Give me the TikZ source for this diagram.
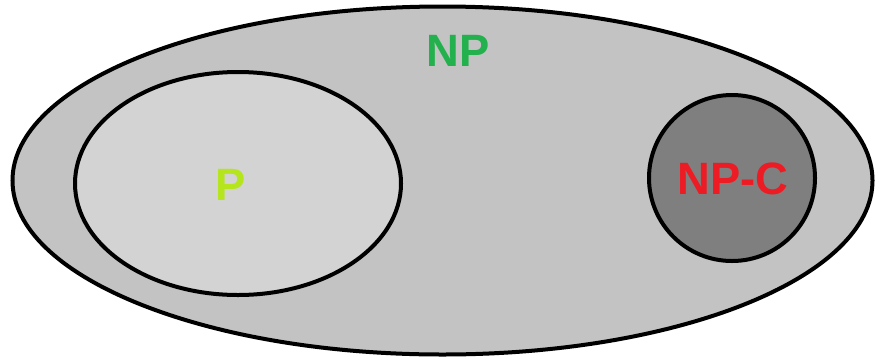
\documentclass[tikz,border=0pt]{standalone}
\usepackage{fontspec}
\setmainfont{Liberation Sans}
\definecolor{outerfill}{RGB}{195,195,195}
\definecolor{pfill}{RGB}{211,211,211}
\definecolor{npcfill}{RGB}{127,127,127}
\definecolor{npgreen}{RGB}{34,177,76}
\definecolor{pyellow}{RGB}{181,230,29}
\definecolor{npcred}{RGB}{237,28,36}
\begin{document}
\begin{tikzpicture}[x=0.75pt,y=-0.75pt,
  setline/.style={draw=black,line width=3pt},
  lbl/.style={font=\fontsize{34}{36}\selectfont\bfseries,inner sep=0pt}]
\useasboundingbox (0,0) rectangle (880,361);
\fill[white] (0,0) rectangle (880,361);
\path[setline,fill=outerfill] (442.5,180.5) ellipse [x radius=430, y radius=174];
\path[setline,fill=pfill] (238,183.5) ellipse [x radius=163, y radius=111.5];
\path[setline,fill=npcfill] (732,178) circle [radius=83];
\node[lbl,text=npgreen] (np) at (458,51) {NP};
\node[lbl,text=pyellow] (p) at (231,185) {P};
\node[lbl,text=npcred] (npc) at (733,179) {NP-C};
\end{tikzpicture}
\end{document}
